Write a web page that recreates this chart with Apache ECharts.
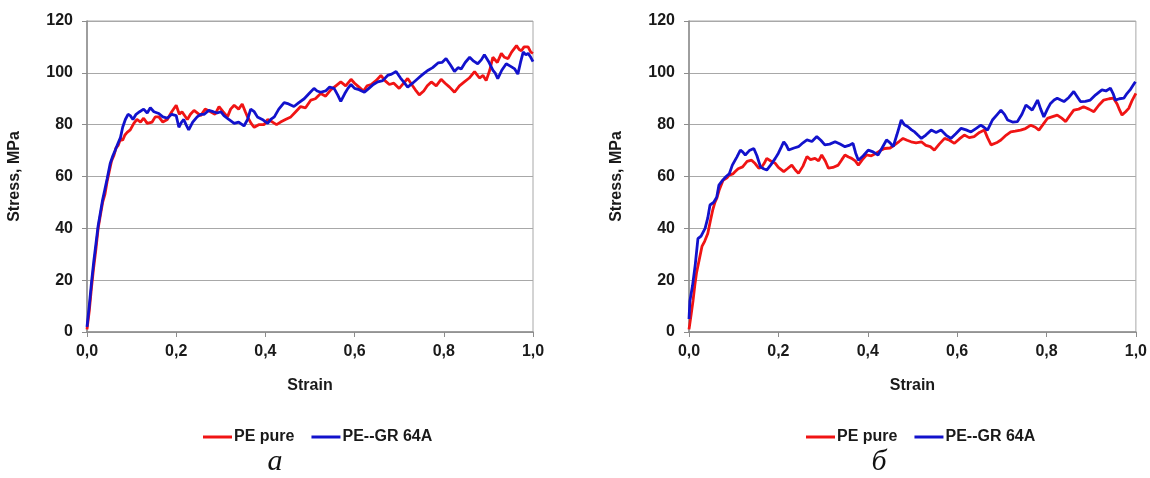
<!DOCTYPE html>
<html>
<head>
<meta charset="utf-8">
<script src="https://cdn.jsdelivr.net/npm/echarts@6/dist/echarts.min.js"></script>
<style>
  html, body { margin: 0; padding: 0; background: #fff; }
  #chart { width: 1150px; height: 478px; }
</style>
</head>
<body>
<div id="chart"></div>
<script>
// series names and panel captions
var seriesNames = ['PE pure', 'PE--GR 64A']
var captions = ['а', 'б']
var xTicks = [0, 0.2, 0.4, 0.6, 0.8, 1.0]
var yTicks = [0, 20, 40, 60, 80, 100, 120]

// panel а: [strain, stress MPa]
var pureA = [[0,1],[0.005,8],[0.01,17],[0.015,25],[0.02,32],[0.025,40],[0.03,45],[0.035,50],[0.04,53],[0.045,58],[0.05,62],[0.055,66],[0.06,68],[0.065,71],[0.07,72],[0.075,74.5],[0.08,74],[0.085,76],[0.09,77],[0.097,78],[0.105,80.5],[0.112,82],[0.12,81],[0.127,82.5],[0.135,80.5],[0.146,81],[0.153,83],[0.161,83],[0.17,81],[0.18,82],[0.19,85],[0.2,87.5],[0.207,84],[0.213,85],[0.225,82],[0.232,84],[0.24,85.5],[0.255,83.5],[0.265,86],[0.277,85],[0.287,84],[0.296,87],[0.305,85],[0.315,83],[0.322,86],[0.33,87.5],[0.34,86],[0.348,88],[0.355,85],[0.36,83],[0.368,80.5],[0.375,79],[0.385,80],[0.397,80],[0.405,82],[0.416,81],[0.425,80],[0.434,81],[0.445,82],[0.457,83],[0.468,85],[0.479,87],[0.49,86.5],[0.502,89.5],[0.512,90],[0.524,92],[0.535,91],[0.547,93.5],[0.558,95],[0.569,96.5],[0.58,95],[0.592,97.5],[0.6,96],[0.61,94.5],[0.62,93],[0.628,95],[0.637,95.5],[0.648,97],[0.659,99],[0.668,97],[0.678,95.5],[0.688,96],[0.7,94],[0.71,96],[0.719,97.8],[0.73,95],[0.738,93],[0.745,91.5],[0.755,93],[0.763,95],[0.772,96.5],[0.783,95],[0.794,97.5],[0.803,96],[0.813,94.5],[0.824,92.5],[0.835,95],[0.846,96.5],[0.857,98],[0.869,100.5],[0.88,98],[0.888,99],[0.895,97],[0.903,101],[0.91,106],[0.92,104],[0.929,107.5],[0.936,106],[0.944,105.5],[0.952,108],[0.963,110.5],[0.969,109],[0.974,108.5],[0.98,110],[0.989,110],[0.995,108],[1.0,107.5]]
var grA = [[0,2],[0.005,10],[0.01,19],[0.015,27],[0.02,34],[0.025,41],[0.03,46],[0.035,51],[0.04,55],[0.045,59],[0.052,65],[0.058,68],[0.063,70],[0.07,73],[0.075,75],[0.08,79],[0.086,82],[0.092,84],[0.097,83.5],[0.103,82],[0.11,84],[0.118,85],[0.127,86],[0.135,84.5],[0.142,86.5],[0.15,85],[0.161,84.3],[0.17,83],[0.18,82.5],[0.19,84],[0.2,83.5],[0.206,79],[0.212,81],[0.217,82],[0.222,80],[0.228,78],[0.237,81],[0.247,83],[0.255,84],[0.263,84],[0.273,85.5],[0.283,85],[0.292,84.5],[0.3,85],[0.307,83.5],[0.318,82],[0.33,80.5],[0.34,81],[0.352,79.5],[0.36,82],[0.367,86],[0.375,85],[0.382,83],[0.393,82],[0.405,80.5],[0.412,82],[0.42,83],[0.43,86],[0.442,88.5],[0.452,88],[0.464,87],[0.475,88.5],[0.487,90],[0.498,92],[0.509,94],[0.516,93],[0.524,92.5],[0.535,93],[0.544,94.5],[0.554,94],[0.562,91.5],[0.569,89],[0.578,92],[0.585,94],[0.592,95.5],[0.6,94],[0.61,93.5],[0.622,92.5],[0.632,94],[0.642,95.5],[0.652,96.5],[0.663,97],[0.674,99],[0.683,99.5],[0.693,100.5],[0.703,98],[0.71,96.5],[0.719,94.5],[0.73,96],[0.742,97.8],[0.75,99],[0.757,100],[0.765,101],[0.775,102],[0.787,103.8],[0.796,104],[0.805,105.5],[0.815,103],[0.824,100.5],[0.832,102],[0.839,101.5],[0.848,104],[0.858,106],[0.867,104.5],[0.876,103.5],[0.884,105],[0.891,107],[0.9,104.5],[0.91,101],[0.915,100],[0.921,97.8],[0.93,101],[0.94,103.5],[0.95,102.5],[0.959,101.5],[0.966,99.5],[0.972,104],[0.978,108],[0.984,107],[0.989,107.5],[0.995,106],[1.0,104.3]]

// panel б
var pureB = [[0,1],[0.005,7],[0.009,12],[0.013,18],[0.017,23],[0.023,28],[0.029,33],[0.035,35],[0.042,38],[0.048,43],[0.053,47],[0.058,50],[0.062,51.5],[0.068,55],[0.076,58.5],[0.085,59.5],[0.09,60.5],[0.098,61],[0.104,62],[0.11,63],[0.12,63.7],[0.13,65.8],[0.14,66.3],[0.148,65],[0.156,63.2],[0.162,63.5],[0.168,65],[0.174,67],[0.183,66],[0.193,65.1],[0.2,63.5],[0.212,61.9],[0.22,63],[0.23,64.4],[0.238,62.5],[0.245,61.2],[0.255,64],[0.264,67.7],[0.272,66.5],[0.282,67],[0.29,66],[0.297,68.3],[0.305,66],[0.312,63.2],[0.322,63.5],[0.334,64.4],[0.342,66.5],[0.349,68.3],[0.357,67.5],[0.364,67],[0.372,66],[0.379,64.4],[0.388,66.5],[0.397,68.3],[0.408,68],[0.419,69],[0.428,70],[0.438,70.8],[0.45,71],[0.46,72.2],[0.47,73.5],[0.479,74.7],[0.488,74],[0.497,73.4],[0.508,73],[0.52,73.4],[0.53,72],[0.54,71.5],[0.549,70.2],[0.56,72.5],[0.572,74.7],[0.583,74],[0.594,72.8],[0.605,74.5],[0.616,76],[0.627,75],[0.638,75.4],[0.65,77],[0.661,77.9],[0.668,75],[0.676,72.2],[0.688,73],[0.698,74.1],[0.71,76],[0.72,77.2],[0.73,77.5],[0.742,77.9],[0.753,78.5],[0.765,79.8],[0.775,79],[0.783,77.9],[0.792,80],[0.802,82.4],[0.812,83],[0.824,83.7],[0.834,82.5],[0.843,81.2],[0.852,83.5],[0.861,85.6],[0.872,86],[0.883,86.9],[0.895,86],[0.906,85],[0.917,87.5],[0.928,89.5],[0.94,90],[0.95,90.2],[0.958,88],[0.964,85.5],[0.969,83.7],[0.977,85],[0.984,86.3],[0.992,89.5],[1.0,92.1]]
var grB = [[0,5],[0.002,12],[0.008,18],[0.014,26],[0.02,36],[0.027,37],[0.036,40],[0.042,44],[0.047,49],[0.055,50],[0.062,52],[0.067,56.7],[0.075,58.5],[0.083,60],[0.09,61],[0.097,64.4],[0.107,67.5],[0.115,70.2],[0.12,69.5],[0.126,68.3],[0.135,70],[0.145,70.8],[0.152,68],[0.16,63.7],[0.167,63],[0.174,62.5],[0.183,64.5],[0.193,67],[0.2,69],[0.207,71.5],[0.212,73.4],[0.218,72],[0.223,70.2],[0.235,71],[0.245,71.5],[0.255,73],[0.264,74.1],[0.275,73.5],[0.286,75.4],[0.295,74],[0.304,72.2],[0.315,72.5],[0.327,73.4],[0.338,72.5],[0.349,71.5],[0.358,72],[0.367,72.8],[0.373,69],[0.379,66.3],[0.39,68],[0.401,70.2],[0.412,69.5],[0.423,68.3],[0.432,71],[0.442,74.1],[0.45,73],[0.457,71.5],[0.465,76],[0.475,81.8],[0.482,80],[0.49,79.2],[0.498,78],[0.505,77.2],[0.512,76],[0.52,74.7],[0.53,76],[0.542,77.9],[0.553,77],[0.564,77.9],[0.575,76],[0.586,74.7],[0.597,76.5],[0.609,78.6],[0.62,78],[0.631,77.2],[0.642,78.5],[0.653,79.8],[0.66,79],[0.668,77.9],[0.674,80],[0.679,81.8],[0.69,84],[0.698,85.6],[0.706,84],[0.713,81.8],[0.724,81],[0.735,81.2],[0.745,84],[0.754,87.6],[0.762,86.5],[0.768,85.6],[0.774,87.5],[0.78,89.5],[0.787,86],[0.794,83],[0.802,86],[0.809,88.2],[0.817,89.5],[0.824,90.2],[0.832,89.5],[0.839,88.9],[0.85,90.5],[0.861,92.8],[0.868,91],[0.876,88.9],[0.887,89],[0.898,89.5],[0.91,91.5],[0.924,93.4],[0.933,93],[0.943,94.1],[0.949,92],[0.954,89.5],[0.963,90],[0.973,90.2],[0.98,92],[0.987,93.4],[0.993,95],[0.999,96.6]]

var RED = '#f01414'
var BLUE = '#1212cc'
var FONT = 'Liberation Sans, Arial, sans-serif'

function makeX(gridIndex) {
  return {
    type: 'value',
    gridIndex: gridIndex,
    min: xTicks[0],
    max: xTicks[xTicks.length - 1],
    interval: 0.2,
    name: 'Strain',
    nameLocation: 'middle',
    nameGap: 46,
    nameTextStyle: { fontFamily: FONT, fontWeight: 'bold', fontSize: 16, color: '#1a1a1a' },
    axisLine: { lineStyle: { color: '#8c8c8c', width: 1.5 } },
    axisTick: { show: true, inside: false, length: 5, lineStyle: { color: '#8c8c8c' } },
    splitLine: { show: false },
    axisLabel: {
      margin: 12,
      fontFamily: FONT, fontWeight: 'bold', fontSize: 16, color: '#1a1a1a',
      formatter: function (v) { return v.toFixed(1).replace('.', ',') }
    }
  }
}

function makeY(gridIndex) {
  return {
    type: 'value',
    gridIndex: gridIndex,
    min: yTicks[0],
    max: yTicks[yTicks.length - 1],
    interval: 20,
    name: 'Stress, MPa',
    nameLocation: 'middle',
    nameGap: 64,
    nameTextStyle: { fontFamily: FONT, fontWeight: 'bold', fontSize: 16, color: '#1a1a1a' },
    axisLine: { show: true, lineStyle: { color: '#8c8c8c', width: 1.5 } },
    axisTick: { show: true, inside: false, length: 5, lineStyle: { color: '#8c8c8c' } },
    splitLine: { show: true, lineStyle: { color: '#a8a8a8', width: 1 } },
    axisLabel: { margin: 14, fontFamily: FONT, fontWeight: 'bold', fontSize: 16, color: '#1a1a1a' }
  }
}

function makeLine(name, data, color, idx) {
  return {
    name: name,
    type: 'line',
    xAxisIndex: idx,
    yAxisIndex: idx,
    data: data,
    symbol: 'none',
    smooth: false,
    animation: false,
    lineStyle: { color: color, width: 2.8 },
    itemStyle: { color: color }
  }
}

function makeLegend(left) {
  return {
    left: left,
    top: 424,
    orient: 'horizontal',
    icon: 'rect',
    itemWidth: 29,
    itemHeight: 3,
    itemGap: 17,
    textStyle: { fontFamily: FONT, fontWeight: 'bold', fontSize: 16, color: '#1a1a1a', padding: [0, 0, 0, -3] },
    data: seriesNames
  }
}

var chart = echarts.init(document.getElementById('chart'))
chart.setOption({
  backgroundColor: '#fff',
  animation: false,
  grid: [
    { left: 87, top: 21, width: 446, height: 311, show: true, borderColor: '#a8a8a8', borderWidth: 1 },
    { left: 689, top: 21, width: 449, height: 311, show: true, borderColor: '#a8a8a8', borderWidth: 1 }
  ],
  xAxis: [makeX(0), makeX(1)],
  yAxis: [makeY(0), makeY(1)],
  legend: [makeLegend(198), makeLegend(801)],
  series: [
    makeLine(seriesNames[0], pureA, RED, 0),
    makeLine(seriesNames[1], grA, BLUE, 0),
    makeLine(seriesNames[0], pureB, RED, 1),
    makeLine(seriesNames[1], grB, BLUE, 1)
  ],
  graphic: [
    { type: 'text', x: 275, y: 477, style: { text: captions[0], font: 'italic 30px "Liberation Serif", serif', fill: '#111', align: 'center', verticalAlign: 'bottom' } },
    { type: 'text', x: 879, y: 477, style: { text: captions[1], font: 'italic 30px "Liberation Serif", serif', fill: '#111', align: 'center', verticalAlign: 'bottom' } }
  ]
})
</script>
</body>
</html>
